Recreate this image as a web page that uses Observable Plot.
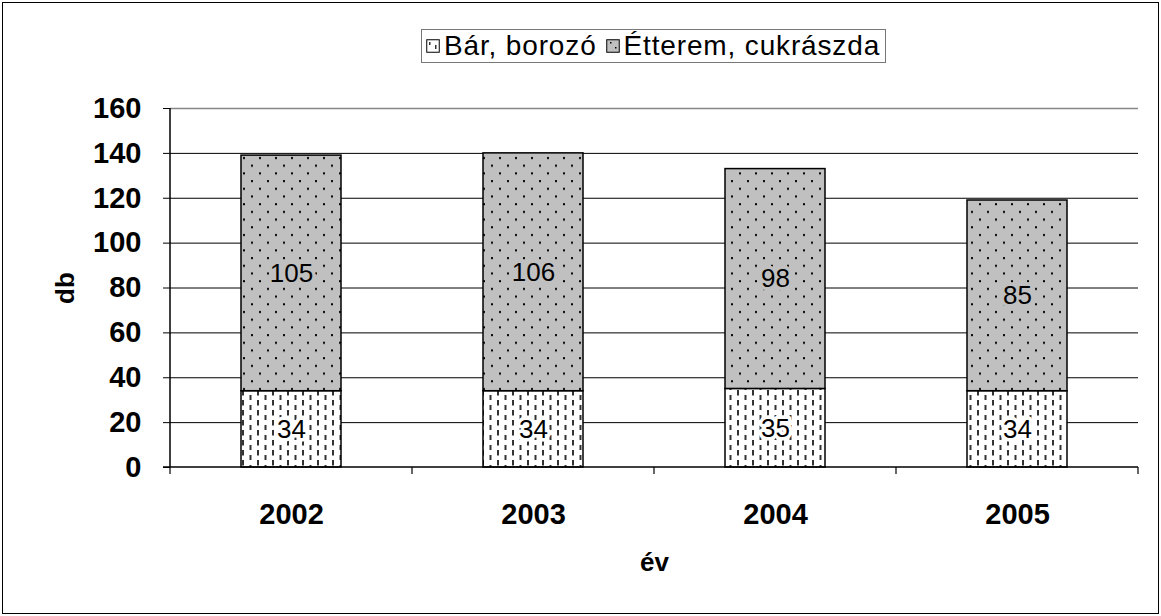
<!DOCTYPE html>
<html>
<head>
<meta charset="utf-8">
<script src="https://cdn.jsdelivr.net/npm/d3@7"></script>
<script src="https://cdn.jsdelivr.net/npm/@observablehq/plot@0.6"></script>
<style>
  html, body { margin: 0; padding: 0; background: #fff; }
  #wrap { position: relative; width: 1161px; height: 616px; font-family: "Liberation Sans", Arial, sans-serif; }
  #border { position: absolute; left: 2px; top: 2px; width: 1155px; height: 610px; border: 1.5px solid #000; pointer-events: none; }
  #legend { position: absolute; left: 421px; top: 29px; height: 32px; padding: 0 5px 0 4px; border: 1px solid #777; background: #fff;
            display: flex; align-items: center; font-size: 28px; letter-spacing: 0.85px; color: #000; white-space: nowrap; }
  #legend .item { display: flex; align-items: center; margin-right: 9px; }
  #legend .item:last-child { margin-right: 0; }
  #legend svg { margin-right: 4px; }
  #chart { position: absolute; left: 0; top: 0; }
</style>
</head>
<body>
<div id="wrap">
  <div id="chart"></div>
  <div id="legend"></div>
  <div id="border"></div>
</div>
<script>
// ---- data ----
const years = ["2002", "2003", "2004", "2005"];
const barBorozo = [34, 34, 35, 34];
const etteremCukraszda = [105, 106, 98, 85];
const seriesNames = ["Bár, borozó", "Étterem, cukrászda"];
const yTicks = [0, 20, 40, 60, 80, 100, 120, 140, 160];
const yLabel = "db";
const xLabel = "év";

const seriesValues = [barBorozo, etteremCukraszda];
const rows = [];
seriesNames.forEach((s, si) => years.forEach((y, i) => rows.push({ year: y, series: s, value: seriesValues[si][i] })));

const patternFor = { "Bár, borozó": "url(#pDash)", "Étterem, cukrászda": "url(#pDot)" };
const bgFor = { "Bár, borozó": "#ffffff", "Étterem, cukrászda": "#c0c0c0" };

const W = 1161, H = 616;
const mL = 170, mR = 23, mT = 108, mB = 149;

const plot = Plot.plot({
  width: W,
  height: H,
  marginLeft: mL,
  marginRight: mR,
  marginTop: mT,
  marginBottom: mB,
  style: { fontFamily: "'Liberation Sans', Arial, sans-serif", background: "transparent", color: "#000" },
  x: { domain: years, paddingInner: 0.587, paddingOuter: 0.2935, label: null },
  y: { domain: [0, 160], label: null },
  color: { domain: seriesNames, range: seriesNames.map(s => patternFor[s]) },
  marks: [
    Plot.ruleY(yTicks.filter(t => t > 0 && t < 160), { stroke: "#000", strokeWidth: 1 }),
    Plot.ruleY([160], { stroke: "#888", strokeWidth: 1.5 }),
    Plot.barY(rows, { x: "year", y: "value", fill: "series", stroke: "#000", strokeWidth: 1.5 }),
    Plot.text(rows, Plot.stackY({
      x: "year", y: "value", z: "series", text: d => String(d.value),
      fill: "#000", stroke: d => bgFor[d.series], strokeWidth: 7, paintOrder: "stroke",
      fontSize: 26
    })),
    Plot.axisY({ ticks: yTicks, tickSize: 7, tickPadding: 22, fontSize: 29, fontWeight: "bold", label: null, tickFormat: d => String(d) }),
    Plot.axisX({ tickSize: 0, tickPadding: 36, fontSize: 29, fontWeight: "bold", label: null }),
    Plot.text([yLabel], { frameAnchor: "left", dx: -105, rotate: -90, textAnchor: "middle", fontSize: 26, fontWeight: "bold" }),
    Plot.text([xLabel], { frameAnchor: "bottom", dy: 103, fontSize: 26, fontWeight: "bold" })
  ]
});

document.getElementById("chart").appendChild(plot);

// patterns
const defs = d3.select(plot).insert("defs", ":first-child");
const pd = defs.append("pattern").attr("id", "pDot").attr("patternUnits", "userSpaceOnUse")
  .attr("width", 16).attr("height", 15.4);
pd.append("rect").attr("width", 16).attr("height", 15.4).attr("fill", "#c0c0c0");
pd.append("rect").attr("x", 3).attr("y", 3).attr("width", 2).attr("height", 2).attr("fill", "#000");
pd.append("rect").attr("x", 11).attr("y", 10.7).attr("width", 2).attr("height", 2).attr("fill", "#000");

const pa = defs.append("pattern").attr("id", "pDash").attr("patternUnits", "userSpaceOnUse")
  .attr("width", 15).attr("height", 10);
pa.append("rect").attr("width", 15).attr("height", 10).attr("fill", "#fff");
pa.append("rect").attr("x", 2).attr("y", 0).attr("width", 2).attr("height", 5.5).attr("fill", "#333");
pa.append("rect").attr("x", 9.5).attr("y", 5).attr("width", 2).attr("height", 5.5).attr("fill", "#333");

// category boundary ticks and axis lines, positioned from the plot's own scales
const xs = plot.scale("x");
const ys = plot.scale("y");
const yAxis0 = ys.apply(0);
const g = d3.select(plot).append("g");
const gap = (xs.step - xs.bandwidth) / 2;
const bounds = years.map(y => xs.apply(y) - gap);
bounds.push(xs.apply(years[years.length - 1]) + xs.bandwidth + gap);
bounds.forEach(b => {
  g.append("line").attr("x1", b).attr("x2", b).attr("y1", yAxis0).attr("y2", yAxis0 + 7)
    .attr("stroke", "#000").attr("stroke-width", 1.2);
});
g.append("line").attr("x1", bounds[0]).attr("x2", bounds[0]).attr("y1", ys.apply(160)).attr("y2", yAxis0)
  .attr("stroke", "#000").attr("stroke-width", 1.5);
g.append("line").attr("x1", bounds[0] - 7).attr("x2", bounds[bounds.length - 1]).attr("y1", yAxis0).attr("y2", yAxis0)
  .attr("stroke", "#000").attr("stroke-width", 1.5);

// legend
const legend = document.getElementById("legend");
seriesNames.forEach(s => {
  const item = document.createElement("div");
  item.className = "item";
  item.innerHTML = `<svg width="14" height="14"><rect x="0.75" y="0.75" width="12.5" height="12.5" fill="${bgFor[s]}" stroke="#000" stroke-width="1"/>` +
    (s === seriesNames[0]
      ? `<rect x="3" y="3" width="1.5" height="3" fill="#333"/><rect x="9" y="6" width="1.5" height="4" fill="#333"/>`
      : `<rect x="4" y="3" width="1.5" height="1.5" fill="#000"/><rect x="9" y="8" width="1.5" height="1.5" fill="#000"/>`) +
    `</svg><span>${s}</span>`;
  legend.appendChild(item);
});
</script>
</body>
</html>
